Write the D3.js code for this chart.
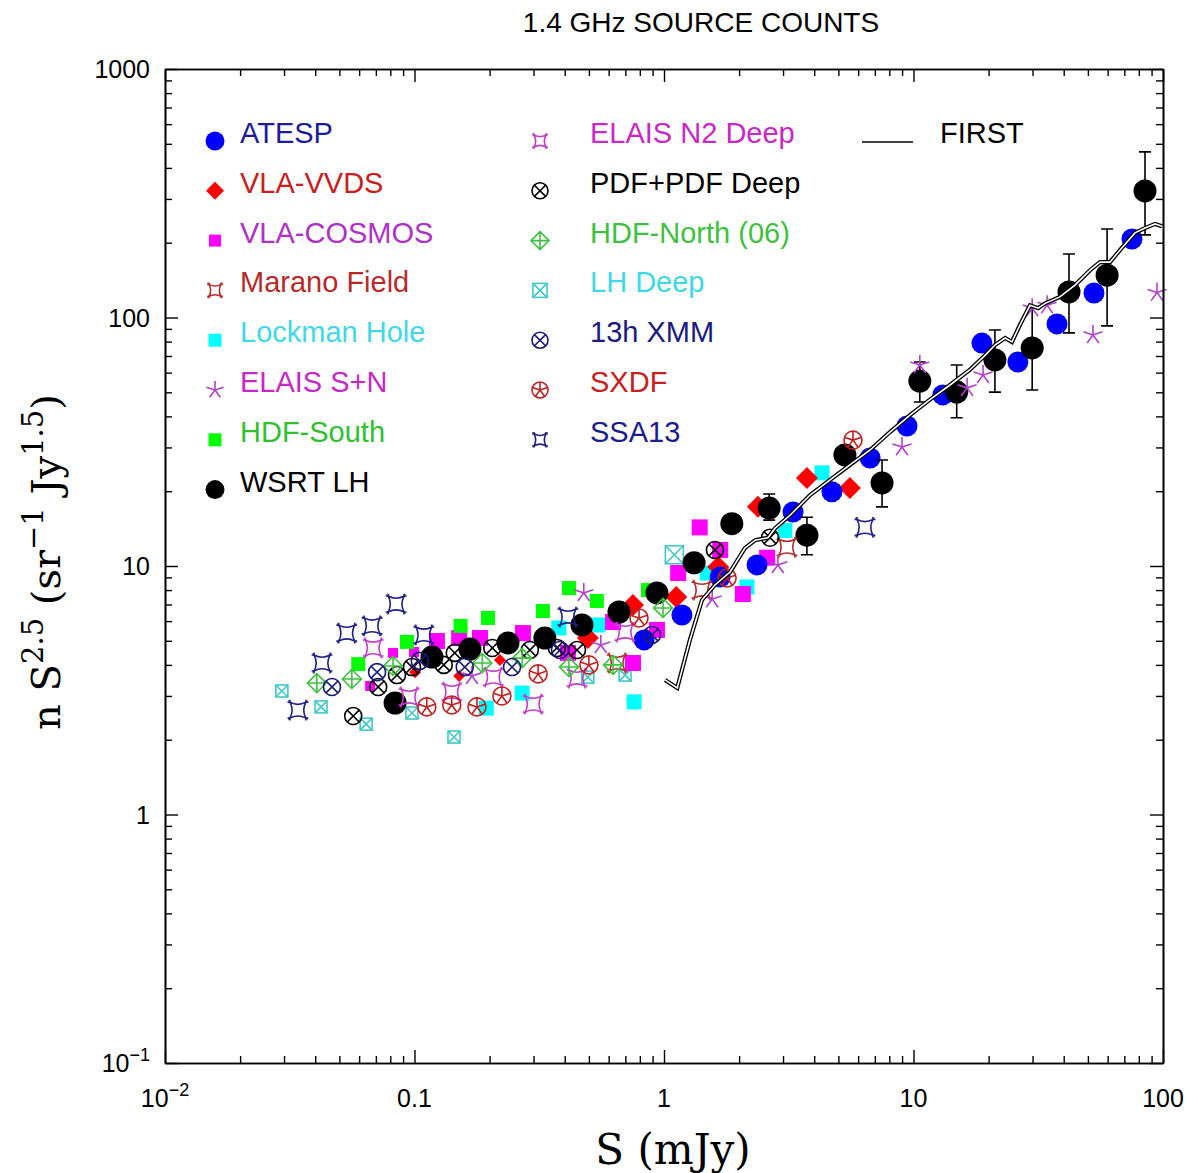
<!DOCTYPE html>
<html><head><meta charset="utf-8">
<script src="https://cdn.jsdelivr.net/npm/d3@7/dist/d3.min.js"></script>
<style>
html,body{margin:0;padding:0;background:#fff;}
svg{display:block;}
</style></head>
<body>
<svg id="chart" width="1190" height="1173"></svg>
<script>
// ---------------- DATA ----------------
const xTickLabels = ["10^-2","0.1","1","10","100"];
const xTickValues = [0.01,0.1,1,10,100];
const yTickLabels = ["10^-1","1","10","100","1000"];
const yTickValues = [0.1,1,10,100,1000];

const atespS = [0.832,1.18,1.68,2.36,3.29,4.71,6.70,9.42,13.1,18.8,26.2,37.6,52.9,75.1];
const atespN = [5.04,6.35,9.03,10.1,16.5,19.9,27.2,36.6,48.8,78.9,66.2,94.2,125.5,207];

const vvdsS = [0.1005,0.151,0.220,0.495,0.751,1.12,1.65,2.38,3.74,5.56];
const vvdsN = [3.74,3.61,4.19,5.13,6.97,7.50,9.91,17.3,22.6,20.6];

const cosmosS = [0.0664,0.0820,0.0995,0.123,0.151,0.183,0.272,0.412,0.625,0.751,0.937,1.14,1.39,1.68,2.07,2.59];
const cosmosN = [3.29,4.47,4.51,4.99,5.13,5.13,5.37,4.47,5.95,4.07,5.53,9.37,14.3,11.6,7.71,10.8];

const maranoS = [0.649,1.42,3.11];
const maranoN = [4.07,8.00,11.9];

const lockmanS = [0.194,0.270,0.379,0.543,0.759,1.49,2.15,3.05,4.30];
const lockmanN = [2.68,3.08,5.63,5.79,2.84,9.37,8.23,13.9,23.7];

const elaisS = [0.170,0.477,0.558,1.56,2.86,8.99,10.6,16.4,19.0,29.9,34.3,52.4,94.6];
const elaisN = [3.61,7.79,4.81,7.36,10.1,30.1,64.4,52.1,58.7,109,112,85.1,126];

const hdfsS = [0.0595,0.0933,0.153,0.197,0.327,0.416,0.538,0.863];
const hdfsN = [4.03,4.95,5.74,6.18,6.59,8.15,7.23,8.00];

const wsrtS  = [0.0836,0.1175,0.1667,0.237,0.333,0.469,0.660,0.937,1.32,1.87,2.64,3.74,5.31,7.48,10.6,14.9,21.2,29.9,42.0,59.7,84.7];
const wsrtN  = [2.81,4.30,4.63,4.90,5.13,5.79,6.53,7.79,10.3,14.8,17.1,13.3,28.0,21.6,55.5,50.1,67.5,75.4,126.7,148,323];
const wsrtLo = [null,null,null,null,null,null,null,null,null,null,15.3,11.1,null,17.3,45.7,39.5,50.1,51.1,86.7,92.5,215];
const wsrtHi = [null,null,null,null,null,null,null,null,null,null,19.5,15.7,null,26.7,66.2,64.4,89.1,109,180,227,464];

const n2S = [0.0683,0.0951,0.141,0.207,0.299,0.448,0.698];
const n2N = [4.68,2.97,3.11,3.57,2.78,3.54,5.42];

const pdfS = [0.0568,0.0715,0.0851,0.0977,0.131,0.145,0.205,0.290,0.372,0.448,1.60,2.66];
const pdfN = [2.49,3.26,3.64,3.92,4.00,4.47,4.68,4.59,4.68,4.59,11.6,13.0];

const hdfnS = [0.0406,0.0561,0.0820,0.187,0.270,0.416,0.625,0.991];
const hdfnN = [3.38,3.51,3.96,4.07,4.26,3.92,4.00,6.78];

const lhdS = [0.0294,0.0422,0.0640,0.0977,0.144,0.495,0.698,1.10];
const lhdN = [3.14,2.71,2.31,2.56,2.05,3.57,3.64,11.1];

const xmmS = [0.0467,0.0708,0.105,0.159,0.246,0.383,0.895];
const xmmN = [3.26,3.74,4.15,3.92,3.92,4.59,5.28];

const sxdfS = [0.112,0.141,0.178,0.224,0.313,0.500,0.794,1.79,5.72];
const sxdfN = [2.71,2.76,2.71,3.00,3.68,4.00,6.18,8.95,32.1];

const ssaS = [0.0341,0.0426,0.0535,0.0676,0.0844,0.109,0.412,6.39];
const ssaN = [2.63,4.07,5.37,5.74,7.03,5.28,6.23,14.3];

const firstS = [1.01,1.13,1.27,1.42,1.60,1.84,2.11,2.32,2.61,2.79,3.20,3.85,4.63,5.56,6.70,8.05,9.68,11.6,14.0,16.8,19.4,21.2,23.3,24.8,26.7,29.3,31.6,33.7,38.6,44.4,51.0,55.9,61.3,67.3,77.2,84.7,92.9,99.1];
const firstN = [3.48,3.23,5.04,7.30,8.39,9.46,11.8,12.7,13.0,14.2,16.0,19.3,22.2,25.5,29.3,34.6,40.5,46.6,53.5,61.5,70.6,77.5,82.7,79.7,93.3,112,109,114,121,135,155,167,167,187,219,229,238,233];

// ---------------- LAYOUT ----------------
const L = 165, R = 1163, T = 69, B = 1063;
const svg = d3.select("#chart");
const x = d3.scaleLog().domain([0.01,100]).range([L,R]);
const y = d3.scaleLog().domain([0.1,1000]).range([B,T]);

// series definitions (legend order)
const series = [
  {name:"ATESP",          S:atespS,  N:atespN,  type:"circle",  color:"#0000ff", text:"#1c1c9a", col:0, row:0, r:10.5, lr:9.5},
  {name:"VLA-VVDS",       S:vvdsS,   N:vvdsN,   type:"diamond", color:"#ff0000", text:"#c8201e", col:0, row:1, r:11, lr:9},
  {name:"VLA-COSMOS",     S:cosmosS, N:cosmosN, type:"square",  color:"#ff00ff", text:"#b030c8", col:0, row:2, r:8,  lr:6},
  {name:"Marano Field",   S:maranoS, N:maranoN, type:"concave", color:"#b03030", text:"#b82a2a", col:0, row:3, r:8,  lr:6},
  {name:"Lockman Hole",   S:lockmanS,N:lockmanN,type:"square",  color:"#00ffff", text:"#40d8e8", col:0, row:4, r:7.5,lr:6.5},
  {name:"ELAIS S+N",      S:elaisS,  N:elaisN,  type:"asterisk",color:"#b040d0", text:"#c828c8", col:0, row:5, r:10, lr:9},
  {name:"HDF-South",      S:hdfsS,   N:hdfsN,   type:"square",  color:"#00ff00", text:"#30c030", col:0, row:6, r:7,  lr:6.5},
  {name:"WSRT LH",        S:wsrtS,   N:wsrtN,   type:"circle",  color:"#000000", text:"#000000", col:0, row:7, r:11.5, lr:9.5},
  {name:"ELAIS N2 Deep",  S:n2S,     N:n2N,     type:"concave", color:"#c040c8", text:"#c828c8", col:1, row:0, r:8,  lr:6},
  {name:"PDF+PDF Deep",   S:pdfS,    N:pdfN,    type:"circleX", color:"#000000", text:"#000000", col:1, row:1, r:8.5,lr:8},
  {name:"HDF-North (06)", S:hdfnS,   N:hdfnN,   type:"diamondCross", color:"#40c040", text:"#40c040", col:1, row:2, r:9.5, lr:9},
  {name:"LH Deep",        S:lhdS,    N:lhdN,    type:"squareX", color:"#40c8c8", text:"#40d8e8", col:1, row:3, r:7,  lr:7},
  {name:"13h XMM",        S:xmmS,    N:xmmN,    type:"circleX", color:"#1a1a78", text:"#1a1a80", col:1, row:4, r:8.5,lr:8},
  {name:"SXDF",           S:sxdfS,   N:sxdfN,   type:"circleStar", color:"#c02020", text:"#c82020", col:1, row:5, r:9, lr:8},
  {name:"SSA13",          S:ssaS,    N:ssaN,    type:"concave", color:"#202088", text:"#1c1c90", col:1, row:6, r:8,  lr:6}
];
const byName = Object.fromEntries(series.map(s=>[s.name,s]));

function drawMarker(g, type, color, r){
  const sw = 1.6;
  switch(type){
    case "circle":
      g.append("circle").attr("r",r).attr("fill",color); break;
    case "diamond":
      g.append("path").attr("d",`M0,${-r}L${r},0L0,${r}L${-r},0Z`).attr("fill",color); break;
    case "square":
      g.append("rect").attr("x",-r).attr("y",-r).attr("width",2*r).attr("height",2*r).attr("fill",color); break;
    case "concave": {
      const h = r*0.45;
      g.append("path").attr("d",`M${-r},${-r}Q0,${-h} ${r},${-r}Q${h},0 ${r},${r}Q0,${h} ${-r},${r}Q${-h},0 ${-r},${-r}Z`)
        .attr("fill","none").attr("stroke",color).attr("stroke-width",sw);
      const e = r*0.3;
      g.append("path").attr("d",`M${-r-e},${-r}L${-r},${-r}L${-r},${-r-e}M${r+e},${-r}L${r},${-r}L${r},${-r-e}M${r+e},${r}L${r},${r}L${r},${r+e}M${-r-e},${r}L${-r},${r}L${-r},${r+e}`)
        .attr("fill","none").attr("stroke",color).attr("stroke-width",sw);
      break; }
    case "asterisk": {
      let d = "";
      for(let k=0;k<5;k++){const a=-Math.PI/2+k*2*Math.PI/5; d+=`M0,0L${(r*Math.cos(a)).toFixed(2)},${(r*Math.sin(a)).toFixed(2)}`;}
      g.append("path").attr("d",d).attr("stroke",color).attr("stroke-width",sw).attr("fill","none"); break; }
    case "circleX": {
      const q = r*0.7;
      g.append("circle").attr("r",r).attr("fill","none").attr("stroke",color).attr("stroke-width",sw);
      g.append("path").attr("d",`M${-q},${-q}L${q},${q}M${-q},${q}L${q},${-q}`).attr("stroke",color).attr("stroke-width",sw); break; }
    case "diamondCross":
      g.append("path").attr("d",`M0,${-r}L${r},0L0,${r}L${-r},0Z`).attr("fill","none").attr("stroke",color).attr("stroke-width",sw);
      g.append("path").attr("d",`M0,${-r}L0,${r}M${-r},0L${r},0`).attr("stroke",color).attr("stroke-width",sw); break;
    case "squareX":
      g.append("rect").attr("x",-r).attr("y",-r).attr("width",2*r).attr("height",2*r).attr("fill","none").attr("stroke",color).attr("stroke-width",sw);
      g.append("path").attr("d",`M${-r},${-r}L${r},${r}M${-r},${r}L${r},${-r}`).attr("stroke",color).attr("stroke-width",sw); break;
    case "circleStar": {
      g.append("circle").attr("r",r).attr("fill","none").attr("stroke",color).attr("stroke-width",sw);
      let d = "";
      for(let k=0;k<5;k++){const a=-Math.PI/2+k*2*Math.PI/5; d+=`M0,0L${(r*Math.cos(a)).toFixed(2)},${(r*Math.sin(a)).toFixed(2)}`;}
      g.append("path").attr("d",d).attr("stroke",color).attr("stroke-width",sw).attr("fill","none"); break; }
  }
}

const plot = svg.append("g");
function drawSeries(s, rFn){
  const pts = s.S.map((v,i)=>({S:v,N:s.N[i]}));
  plot.append("g").selectAll("g").data(pts).join("g")
    .attr("transform",d=>`translate(${x(d.S)},${y(d.N)})`)
    .each(function(d){ drawMarker(d3.select(this), s.type, s.color, rFn ? rFn(d) : s.r); });
}

// draw order
drawSeries(byName["LH Deep"], d=> d.S>1 ? 9 : 6);
drawSeries(byName["Lockman Hole"]);
drawSeries(byName["VLA-COSMOS"], d=> d.S<0.12 ? 5 : 8);
drawSeries(byName["HDF-South"]);
drawSeries(byName["VLA-VVDS"], d=> d.S<0.3 ? 6 : 11);
drawSeries(byName["ATESP"]);

// WSRT error bars
const wsrtPts = wsrtS.map((v,i)=>({S:v,N:wsrtN[i],lo:wsrtLo[i],hi:wsrtHi[i]})).filter(d=>d.lo!==null);
const eb = plot.append("g").attr("stroke","#000").attr("stroke-width",1.6);
eb.selectAll("path").data(wsrtPts).join("path")
  .attr("d",d=>{const cx=x(d.S),a=y(d.lo),b=y(d.hi); return `M${cx},${a}L${cx},${b}M${cx-6},${a}L${cx+6},${a}M${cx-6},${b}L${cx+6},${b}`;});
drawSeries(byName["WSRT LH"]);

["Marano Field","ELAIS S+N","ELAIS N2 Deep","PDF+PDF Deep","HDF-North (06)","13h XMM","SXDF","SSA13"].forEach(n=>drawSeries(byName[n]));

// FIRST line (hollow double line)
const line = d3.line().x(d=>x(d.S)).y(d=>y(d.N));
const firstPts = firstS.map((v,i)=>({S:v,N:firstN[i]}));
plot.append("path").datum(firstPts).attr("d",line).attr("fill","none").attr("stroke","#000").attr("stroke-width",4.2).attr("stroke-linejoin","miter");
plot.append("path").datum(firstPts).attr("d",line).attr("fill","none").attr("stroke","#fff").attr("stroke-width",1.6).attr("stroke-linejoin","miter");

// ---------------- AXES (ticks inside, all four sides) ----------------
function decadeMinors(lo,hi){const a=[];for(let e=lo;e<hi;e++)for(let k=2;k<=9;k++)a.push(k*Math.pow(10,e));return a;}
const xMin = decadeMinors(-2,2), yMin = decadeMinors(-1,3);
const axG = svg.append("g").attr("class","axes");
function addAxis(axisFn, scale, vals, size, transform){
  const g = axG.append("g").attr("transform",transform)
    .call(axisFn(scale).tickValues(vals).tickSize(size).tickSizeOuter(0).tickFormat(""));
  g.select(".domain").attr("stroke","#000").attr("stroke-width",1.6);
  g.selectAll(".tick line").attr("stroke","#000").attr("stroke-width",1.4);
}
addAxis(d3.axisBottom, x, xTickValues, -13, `translate(0,${B})`);
addAxis(d3.axisBottom, x, xMin, -7, `translate(0,${B})`);
addAxis(d3.axisTop, x, xTickValues, -13, `translate(0,${T})`);
addAxis(d3.axisTop, x, xMin, -7, `translate(0,${T})`);
addAxis(d3.axisLeft, y, yTickValues, -13, `translate(${L},0)`);
addAxis(d3.axisLeft, y, yMin, -7, `translate(${L},0)`);
addAxis(d3.axisRight, y, yTickValues, -13, `translate(${R},0)`);
addAxis(d3.axisRight, y, yMin, -7, `translate(${R},0)`);

// tick labels
const tickFont = "'Liberation Sans', Arial, sans-serif";
function labelText(sel, lab){
  const m = lab.match(/^(.*)\^(.*)$/);
  if(m){
    sel.append("tspan").text(m[1]);
    sel.append("tspan").attr("dy",-11).attr("font-size",18).text(m[2].replace("-","\u2212"));
  } else sel.text(lab);
}
xTickValues.forEach((v,i)=>{
  const t = svg.append("text").attr("x",x(v)).attr("y",1107).attr("text-anchor","middle")
    .attr("font-family",tickFont).attr("font-size",25).attr("fill","#000");
  labelText(t, xTickLabels[i]);
});
yTickValues.forEach((v,i)=>{
  const t = svg.append("text").attr("x",150).attr("y",y(v)+9).attr("text-anchor","end")
    .attr("font-family",tickFont).attr("font-size",25).attr("fill","#000");
  labelText(t, yTickLabels[i]);
});

// title
svg.append("text").attr("x",701).attr("y",32).attr("text-anchor","middle")
  .attr("font-family",tickFont).attr("font-size",28).attr("fill","#000").text("1.4 GHz SOURCE COUNTS");

// axis titles
const serif = "'DejaVu Serif','Liberation Serif',serif";
svg.append("text").attr("x",673).attr("y",1164).attr("text-anchor","middle")
  .attr("font-family",serif).attr("font-size",42).attr("fill","#000").text("S (mJy)");
const yl = svg.append("text").attr("transform","translate(60,562) rotate(-90)").attr("text-anchor","middle")
  .attr("font-family",serif).attr("font-size",40).attr("fill","#000");
yl.append("tspan").text("n S");
yl.append("tspan").attr("dy",-17).attr("font-size",29).text("2.5");
yl.append("tspan").attr("dy",17).text(" (sr");
yl.append("tspan").attr("dy",-17).attr("font-size",29).text("\u22121");
yl.append("tspan").attr("dy",17).text(" Jy");
yl.append("tspan").attr("dy",-17).attr("font-size",29).text("1.5");
yl.append("tspan").attr("dy",17).text(")");

// ---------------- LEGEND ----------------
const legTop = 133, legStep = 49.8;
const colX = [{m:215,t:240},{m:540,t:590}];
series.forEach(s=>{
  const cy = legTop + s.row*legStep;
  const mg = svg.append("g").attr("transform",`translate(${colX[s.col].m},${cy+8})`);
  drawMarker(mg, s.type, s.color, s.lr);
  svg.append("text").attr("x",colX[s.col].t).attr("y",cy+10)
    .attr("font-family",tickFont).attr("font-size",29).attr("fill",s.text).text(s.name);
});
svg.append("line").attr("x1",862).attr("x2",913).attr("y1",142).attr("y2",142).attr("stroke","#000").attr("stroke-width",1.6);
svg.append("text").attr("x",940).attr("y",143).attr("font-family",tickFont).attr("font-size",29).attr("fill","#000").text("FIRST");
</script>
</body></html>
